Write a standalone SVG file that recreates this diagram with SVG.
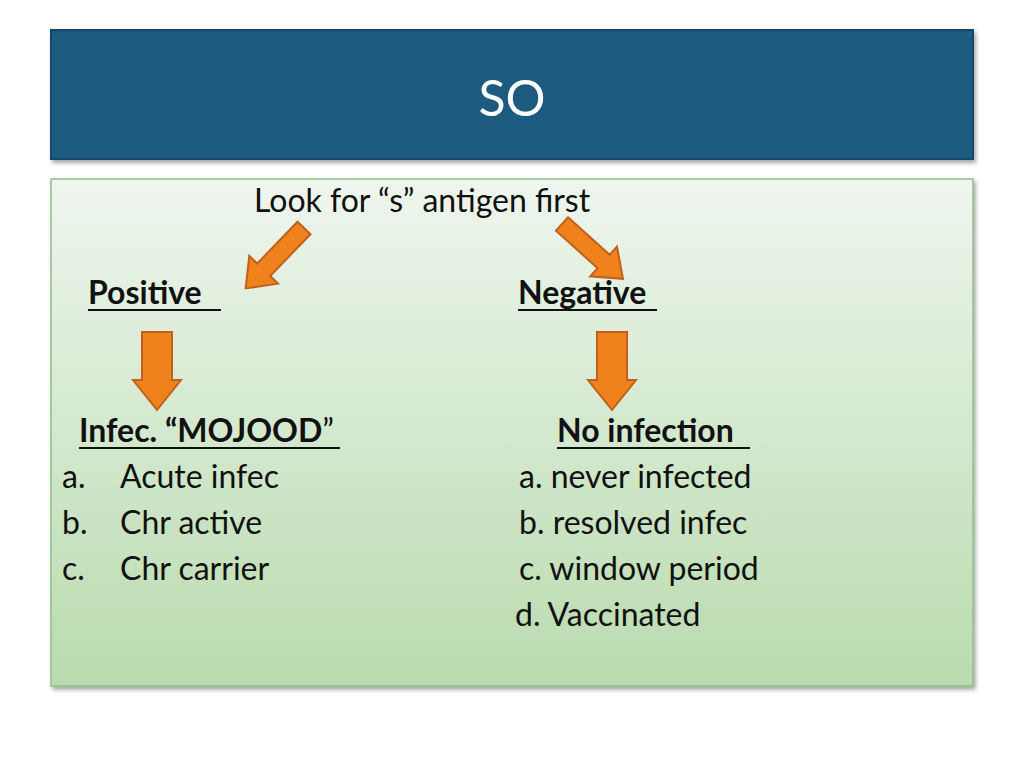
<svg xmlns="http://www.w3.org/2000/svg" width="1024" height="768" viewBox="0 0 1024 768">
<defs>
<linearGradient id="g" x1="0" y1="0" x2="0" y2="1"><stop offset="0" stop-color="#eff6ee"/><stop offset="1" stop-color="#b8dbae"/></linearGradient>
<filter id="sh" x="-5%" y="-5%" width="110%" height="115%"><feDropShadow dx="2" dy="3" stdDeviation="2" flood-opacity="0.35"/></filter>
<polygon id="da" points="-15,0 15,0 15,48 24,48 0,78 -24,48 -15,48" fill="#f0821e" stroke="#c0601a" stroke-width="2"/>
</defs>
<style>
text{font-family:Lato,"Open Sans","Liberation Sans",sans-serif;fill:#111;font-size:32px}
.b{font-weight:bold}
.arr{fill:#f0821e;stroke:#c0601a;stroke-width:2}
</style>
<rect x="0" y="0" width="1024" height="768" fill="#fff"/>
<g id="title"><rect x="51" y="30" width="922" height="129" fill="#1e5a80" stroke="#15476a" stroke-width="2" filter="url(#sh)"/>
<text x="512" y="116" text-anchor="middle" style="fill:#fff;font-size:50px">SO</text></g>
<g id="body"><rect x="51" y="179" width="922" height="507" fill="url(#g)" stroke="#8fbf86" stroke-width="1.5" filter="url(#sh)"/></g>
<g id="start"><text x="254" y="212">Look for “s” antigen first</text></g>
<g id="positive"><text x="88" y="304" class="b">Positive </text><line x1="88" y1="310" x2="221" y2="310" stroke="#111" stroke-width="2"/></g>
<g id="negative"><text x="518" y="304" class="b">Negative</text><line x1="518" y1="310" x2="657" y2="310" stroke="#111" stroke-width="2"/></g>
<g id="infec"><text x="79" y="442"><tspan class="b">Infec. “MOJOOD</tspan>”</text><line x1="79" y1="448" x2="340" y2="448" stroke="#111" stroke-width="2"/>
<text x="62" y="488">a.</text><text x="120" y="488">Acute infec</text>
<text x="62" y="534">b.</text><text x="120" y="534">Chr active</text>
<text x="62" y="580">c.</text><text x="120" y="580">Chr carrier</text></g>
<g id="noinf"><text x="557" y="442" class="b">No infection</text><line x1="557" y1="448" x2="750" y2="448" stroke="#111" stroke-width="2"/>
<text x="519" y="488">a. never infected</text>
<text x="519" y="534">b. resolved infec</text>
<text x="519" y="580">c. window period</text>
<text x="515" y="626">d. Vaccinated</text></g>
<g id="connectors">
<polygon class="arr" transform="translate(304,228) rotate(134)" points="0,-9 58,-9 58,-20 84,0 58,20 58,9 0,9"/>
<polygon class="arr" transform="translate(562,224) rotate(42)" points="0,-9 56,-9 56,-20 82,0 56,20 56,9 0,9"/>
<use href="#da" x="157" y="332"/>
<use href="#da" x="612" y="332"/>
</g>
</svg>
